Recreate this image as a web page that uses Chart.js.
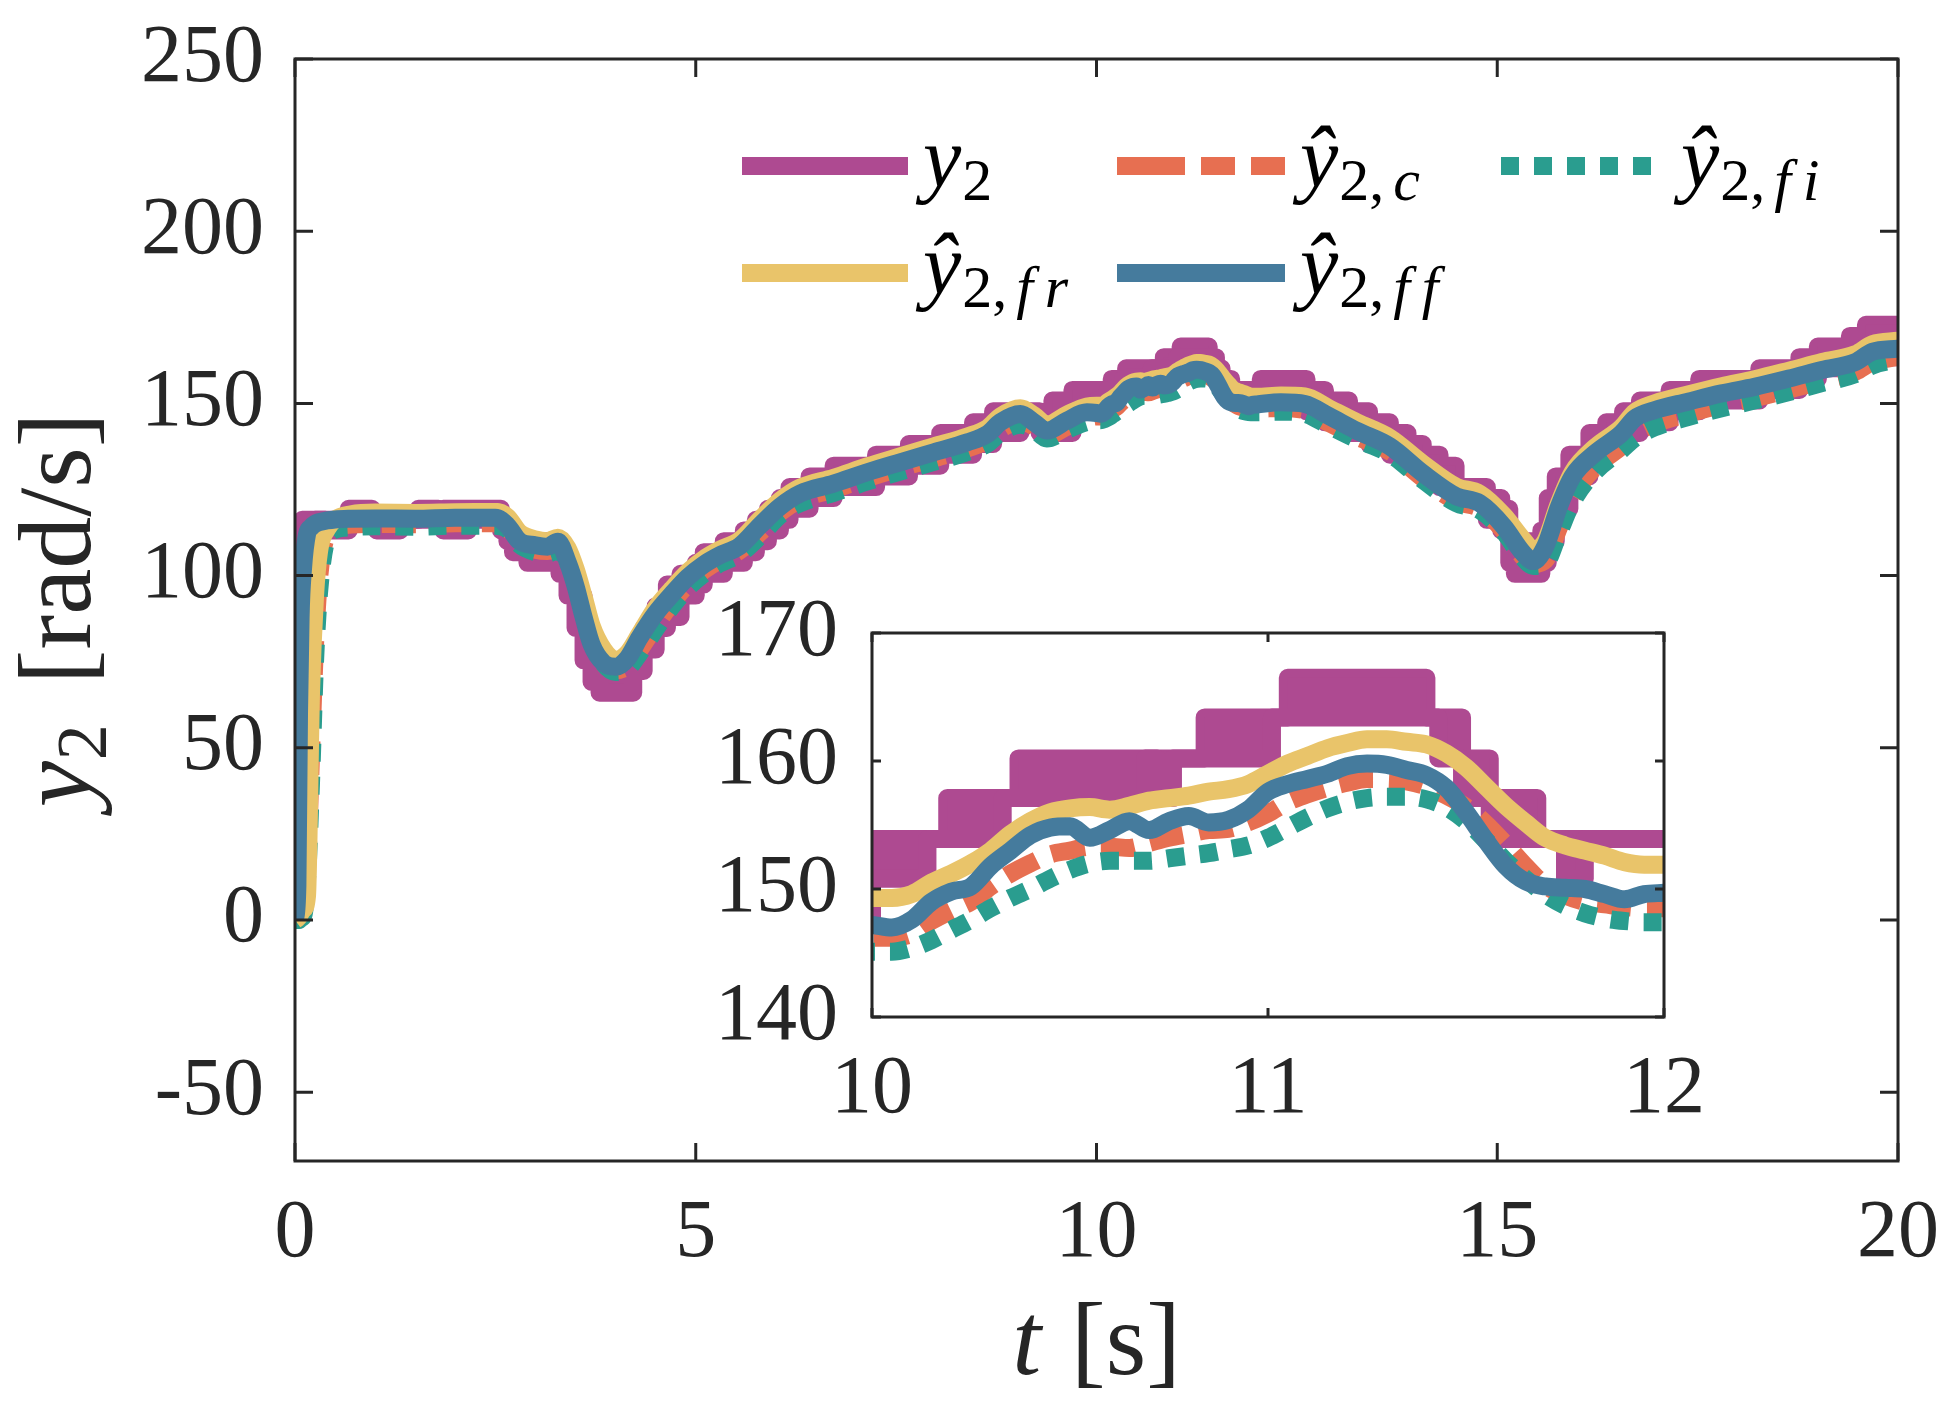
<!DOCTYPE html>
<html>
<head>
<meta charset="utf-8">
<script src="https://cdn.jsdelivr.net/npm/chart.js@4.4.1/dist/chart.umd.min.js"></script>
<style>
html,body{margin:0;padding:0;background:#ffffff;}
#wrap{position:relative;width:1956px;height:1422px;overflow:hidden;}
#wrap canvas{position:absolute;left:0;top:0;}
</style>
</head>
<body>
<div id="wrap">
<canvas id="mainChart" width="1956" height="1422"></canvas>
<canvas id="insetChart" width="1956" height="1422"></canvas>
</div>
<script>
// ---------------- data (time in s, values in rad/s) ----------------
const t = [
  0, 0.03, 0.05, 0.07, 0.1, 0.15, 0.2, 0.25, 0.3, 0.4,
  0.5, 0.7, 1.0, 1.5, 2.0, 2.5, 2.65, 2.8, 3.0, 3.15,
  3.28, 3.4, 3.5, 3.6, 3.7, 3.85, 4.0, 4.15, 4.3, 4.5,
  4.7, 4.9, 5.1, 5.3, 5.55, 5.8, 6.05, 6.3, 6.72, 7.14,
  7.55, 7.97, 8.39, 8.64, 8.8, 9.05, 9.22, 9.38, 9.63, 9.88,
  10.00, 10.05, 10.10, 10.15, 10.20, 10.25, 10.30, 10.35, 10.40, 10.45,
  10.50, 10.55, 10.60, 10.65, 10.70, 10.75, 10.80, 10.85, 10.90, 10.95,
  11.00, 11.05, 11.10, 11.15, 11.20, 11.25, 11.30, 11.35, 11.40, 11.45,
  11.50, 11.55, 11.60, 11.65, 11.70, 11.75, 11.80, 11.85, 11.90, 11.95,
  12.00,
  12.3, 12.6, 12.9, 13.25, 13.66, 14.07, 14.49, 14.78, 15.08, 15.32,
  15.45, 15.6, 15.77, 15.94, 16.22, 16.55, 16.72, 16.96, 17.38, 17.80,
  18.21, 18.64, 19.05, 19.47, 19.68, 20.0
];
// y2hat_ff (blue)
const yFF = [
  0, 10, 60, 88, 102, 112, 114, 115, 115.5, 116,
  116.3, 116.5, 116.6, 116.5, 116.8, 116.8, 114.5, 110, 108.8, 108.4,
  109.8, 104, 97, 88, 80, 74.6, 73.5, 76, 82, 89,
  94.5, 99.5, 103.2, 105.9, 108.6, 114.5, 120, 123.8, 126.7, 130,
  132.9, 135.8, 138.7, 141.1, 144.5, 146.9, 144.5, 142.1, 145, 147.4,
  147.2, 147.0, 147.6, 149.0, 149.8, 150.2, 151.8, 153.0, 154.2, 154.8,
  154.9, 154.0, 154.6, 155.3, 154.6, 155.3, 155.7, 155.2, 155.4, 156.2,
  157.6, 158.2, 158.6, 159.0, 159.6, 159.8, 159.7, 159.3, 158.9, 157.9,
  156.0, 153.8, 151.8, 150.6, 150.2, 150.1, 150.0, 149.6, 149.2, 149.6,
  149.7,
  150.3, 149.8, 146.3, 142, 137.5, 129.7, 123, 121, 114.3, 106.6,
  104.2, 108.5, 120, 128.8, 135.5, 141.3, 145.7, 148, 150.5, 152.9,
  154.8, 157.2, 159.7, 162, 165, 165.9
];
// y2hat_fr (yellow)
const yFR = [
  0, 0.5, 1, 2, 3, 7, 66, 94, 107, 113.5,
  116.3, 117.8, 118.3, 118.2, 118.4, 118.5, 117, 112.5, 110.5, 110,
  111, 108, 102, 94, 85.5, 78.5, 75.5, 77.5, 83, 90.5,
  96, 101, 104.8, 107.5, 110.3, 116.2, 121.7, 125.5, 128.4, 131.7,
  134.6, 137.5, 140.4, 142.8, 146.2, 148.6, 146.5, 143.8, 146.7, 149.1,
  149.3, 149.3, 149.6, 150.5, 151.2, 152.0, 153.0, 154.3, 155.3, 156.0,
  156.3, 156.4, 156.2, 156.5, 156.9, 157.1, 157.3, 157.6, 157.8, 158.2,
  159.0, 159.8, 160.4, 161.0, 161.4, 161.7, 161.7, 161.5, 161.3, 160.6,
  159.5, 158.0, 156.5, 155.2, 154.0, 153.4, 153.0, 152.6, 152.1, 151.9,
  151.9,
  152.3, 152.0, 148.6, 144.5, 140, 132.5, 125.8, 123.8, 117.5, 110.5,
  107.5, 110, 121, 130, 137.2, 143, 147.5, 150, 152.6, 155,
  157, 159.5, 162, 164.3, 167.2, 168.2
];
// y2hat_c (orange, dashed)
const yC = [
  0, 0, 0.5, 1, 2, 15, 48, 80, 99, 112,
  114, 114.8, 115, 114.9, 115.2, 115.2, 114, 109.5, 107.5, 107.1,
  108, 104.3, 97.8, 89.3, 81.3, 74.8, 72.5, 73.8, 78.5, 85.5,
  92, 97.5, 101.5, 104.5, 107.3, 112.5, 118.3, 122, 125, 128.3,
  131.2, 134, 136.9, 139.3, 142.5, 144.8, 143.3, 140.6, 143.2, 145.6,
  146.2, 146.2, 146.5, 147.5, 148.3, 149.0, 150.2, 151.2, 152.0, 152.7,
  153.0, 153.3, 153.3, 153.2, 153.6, 154.0, 154.3, 154.6, 154.7, 155.2,
  155.9, 156.8, 157.4, 157.9, 158.3, 158.6, 158.6, 158.4, 158.0, 157.3,
  156.4, 155.1, 153.5, 151.8, 150.3, 149.5, 149.0, 148.8, 148.6, 148.5,
  148.5,
  148.6, 148.0, 144.3, 140.3, 136, 128.3, 121.5, 119.5, 113, 105.5,
  103.3, 104.5, 114, 123, 131.5, 137.5, 141.2, 144, 147, 149.5,
  151.5, 154, 156.6, 159.2, 162, 163.5
];
// y2hat_fi (green, dotted)
const yFI = [
  0, 0, 0, 0.5, 1, 12, 40, 75, 95, 111,
  113.3, 114, 114.3, 114.2, 114.5, 114.5, 113.5, 109, 106.8, 106.4,
  107.3, 104, 97.5, 89, 81, 74.5, 72, 73, 77.5, 84.5,
  91, 96.5, 100.5, 103.5, 106.3, 111.5, 117.5, 121, 124, 127.3,
  130.2, 133, 135.9, 138.3, 141.5, 143.8, 142.5, 139.8, 142.3, 144.6,
  145.1, 145.1, 145.4, 146.0, 146.8, 147.6, 148.5, 149.3, 150.0, 150.8,
  151.5, 152.0, 152.2, 152.2, 152.2, 152.4, 152.6, 152.8, 153.1, 153.4,
  154.0, 154.8, 155.6, 156.3, 156.8, 157.1, 157.2, 157.2, 157.0, 156.4,
  155.3, 153.8, 152.2, 150.8, 149.6, 148.7, 148.1, 147.7, 147.5, 147.4,
  147.4,
  147.6, 147.0, 143.5, 139.5, 135.3, 127.8, 121, 119, 112.7, 105.2,
  102.8, 103.5, 112.5, 121.5, 130.2, 136.5, 140, 143, 146, 148.6,
  150.8, 153.3, 155.9, 158.5, 161, 162.8
];
// measured y2 (quantized): upper and lower envelope of the chattering signal,
// each value holds from its time until the next time
const tY2 = [
  0, 0.01, 0.02, 0.03, 0.04, 0.06, 0.09, 0.13, 0.25, 0.38,
  0.67, 0.96, 1.02, 1.31, 1.54, 1.79, 1.85, 2.16, 2.57, 2.65,
  2.72, 2.9, 3.2, 3.3, 3.4, 3.5, 3.6, 3.7, 3.8, 4.15,
  4.22, 4.35, 4.5, 4.64, 4.81, 5.0, 5.1, 5.35, 5.6, 5.75,
  5.9, 6.05, 6.17, 6.42, 6.72, 7.25, 7.66, 8.05, 8.46, 8.71,
  9.05, 9.29, 9.45, 9.7, 10.0, 10.14, 10.19, 10.33, 10.37, 10.69,
  10.72, 10.76, 10.84, 11.01, 11.05, 11.40, 11.43, 11.49, 11.56, 11.68,
  11.75, 11.80, 12.05, 12.62, 12.85, 13.15, 13.4, 13.66, 13.88, 14.07,
  14.28, 14.48, 14.87, 15.05, 15.15, 15.22, 15.55, 15.63, 15.73, 15.9,
  16.15, 16.36, 16.57, 16.78, 17.15, 17.52, 18.27, 18.77, 19.0, 19.4,
  19.6, 20.0
];
const y2Hi = [
  0, 31.4, 69.1, 94.2, 106.8, 113.1, 116.2, 116.2, 116.2, 116.2,
  119.4, 116.2, 116.2, 116.2, 119.4, 116.2, 119.4, 119.4, 116.2, 113.1,
  110.0, 110.0, 110.0, 106.8, 100.5, 94.2, 84.8, 78.5, 72.3, 75.4,
  78.5, 84.8, 91.1, 97.4, 100.5, 103.7, 106.8, 110.0, 113.1, 116.2,
  119.4, 122.5, 125.7, 128.8, 131.9, 135.1, 138.2, 141.4, 144.5, 147.7,
  147.7, 144.5, 150.8, 153.9, 153.9, 153.9, 157.1, 157.1, 160.2, 160.2,
  160.2, 160.2, 163.4, 163.4, 166.5, 163.4, 163.4, 160.2, 157.1, 153.9,
  153.9, 153.9, 157.1, 153.9, 150.8, 147.7, 144.5, 141.4, 138.2, 135.1,
  131.9, 125.7, 122.5, 119.4, 113.1, 110.0, 113.1, 122.5, 128.8, 135.1,
  141.4, 144.5, 147.7, 150.8, 153.9, 157.1, 160.2, 163.4, 166.5, 169.6,
  172.8, 172.8
];
const y2Lo = [
  0, 0, 31.4, 62.8, 88.0, 103.7, 110.0, 113.1, 116.2, 113.1,
  116.2, 116.2, 113.1, 116.2, 116.2, 116.2, 113.1, 116.2, 113.1, 110.0,
  106.8, 103.7, 106.8, 100.5, 94.2, 84.8, 75.4, 69.1, 66.0, 66.0,
  72.3, 78.5, 84.8, 88.0, 94.2, 97.4, 100.5, 103.7, 106.8, 110.0,
  113.1, 116.2, 119.4, 122.5, 125.7, 128.8, 131.9, 135.1, 138.2, 141.4,
  144.5, 141.4, 141.4, 147.7, 150.8, 153.9, 153.9, 157.1, 157.1, 160.2,
  157.1, 160.2, 160.2, 163.4, 163.4, 163.4, 160.2, 157.1, 153.9, 153.9,
  150.8, 153.9, 150.8, 147.7, 144.5, 141.4, 138.2, 135.1, 131.9, 128.8,
  125.7, 122.5, 116.2, 113.1, 103.7, 100.5, 103.7, 110.0, 119.4, 128.8,
  135.1, 138.2, 141.4, 144.5, 147.7, 150.8, 153.9, 157.1, 160.2, 163.4,
  163.4, 166.5
];
const mainXTicks = [0, 5, 10, 15, 20];
const mainYTicks = [-50, 0, 50, 100, 150, 200, 250];
const insetXTicks = [10, 11, 12];
const insetYTicks = [140, 150, 160, 170];

// ---------------- styling ----------------
const PURPLE = '#AE4A91', ORANGE = '#E76F51', GREEN = '#2A9D8F', YELLOW = '#E9C46A', BLUE = '#457B9D';
const AX = '#262626';
const SERIF = "'Liberation Serif', 'DejaVu Serif', serif";
const LW = 18;

function lineDs(label, xs, ys, color, dash, order) {
  return {
    label, data: xs.map((x, i) => ({x, y: ys[i]})),
    borderColor: color, backgroundColor: color, borderWidth: LW, borderDash: dash,
    borderCapStyle: 'butt', borderJoinStyle: 'round', pointRadius: 0, fill: false,
    cubicInterpolationMode: 'monotone', order
  };
}
function makeDatasets() {
  return [
    {label: 'y2 upper', data: tY2.map((x, i) => ({x, y: y2Hi[i]})), borderColor: PURPLE, backgroundColor: PURPLE,
     borderWidth: LW, stepped: 'before', pointRadius: 0, fill: false, order: 5, borderJoinStyle: 'round'},
    {label: 'y2 lower', data: tY2.map((x, i) => ({x, y: y2Lo[i]})), borderColor: PURPLE, backgroundColor: PURPLE,
     borderWidth: LW, stepped: 'before', pointRadius: 0, fill: '-1', order: 4, borderJoinStyle: 'round'},
    lineDs('y2hat_c', t, yC, ORANGE, [34, 16], 3),
    lineDs('y2hat_fi', t, yFI, GREEN, [18, 15], 2),
    lineDs('y2hat_fr', t, yFR, YELLOW, [], 1),
    lineDs('y2hat_ff', t, yFF, BLUE, [], 0)
  ];
}
function setTicks(arr) { return s => { s.ticks = arr.map(v => ({value: v})); }; }

function scaleCfg(min, max, ticks, pad, isX) {
  return {
    type: 'linear', min, max,
    grid: {display: false, drawTicks: false}, border: {display: false},
    ticks: {font: {family: SERIF, size: 82, lineHeight: 1}, color: AX, padding: pad,
            maxRotation: 0, minRotation: 0, autoSkip: false, callback: v => String(v)},
    afterBuildTicks: setTicks(ticks),
    afterFit: s => {
      if (isX) s.height = 150; else s.width = 200;
      s.paddingLeft = 0; s.paddingRight = 0; s.paddingTop = 0; s.paddingBottom = 0;
    }
  };
}

function boxPlugin(len, whiteBg) {
  return {
    id: 'boxTicks' + len,
    beforeDatasetsDraw(chart) {
      if (!whiteBg) return;
      const {ctx, chartArea: a} = chart;
      ctx.save(); ctx.fillStyle = '#ffffff';
      ctx.fillRect(a.left, a.top, a.right - a.left, a.bottom - a.top); ctx.restore();
    },
    afterDatasetsDraw(chart) {
      const {ctx, chartArea: a, scales} = chart;
      ctx.save();
      ctx.strokeStyle = AX; ctx.lineWidth = 3; ctx.setLineDash([]);
      ctx.beginPath();
      scales.x.ticks.forEach(tk => {
        const p = scales.x.getPixelForValue(tk.value);
        ctx.moveTo(p, a.bottom); ctx.lineTo(p, a.bottom - len);
        ctx.moveTo(p, a.top); ctx.lineTo(p, a.top + len);
      });
      scales.y.ticks.forEach(tk => {
        const p = scales.y.getPixelForValue(tk.value);
        ctx.moveTo(a.left, p); ctx.lineTo(a.left + len, p);
        ctx.moveTo(a.right, p); ctx.lineTo(a.right - len, p);
      });
      ctx.stroke();
      ctx.strokeRect(a.left, a.top, a.right - a.left, a.bottom - a.top);
      ctx.restore();
    }
  };
}

function runsWidth(ctx, runs) {
  let w = 0;
  runs.forEach(r => { ctx.font = r.f; w += ctx.measureText(r.t).width + (r.dx || 0); });
  return w;
}
function drawRuns(ctx, runs, x, y, color) {
  ctx.fillStyle = color; ctx.textBaseline = 'alphabetic'; ctx.textAlign = 'left';
  let cx = x;
  runs.forEach(r => {
    ctx.font = r.f;
    ctx.fillText(r.t, cx, y + (r.dy || 0));
    cx += ctx.measureText(r.t).width + (r.dx || 0);
  });
}
const MI = 'italic 86px ' + SERIF, SR = '60px ' + SERIF, SI = 'italic 60px ' + SERIF;
const SUB = 14;
function legendLabel(hat, sub) {
  const runs = [{t: hat ? '\u0177' : 'y', f: MI, dx: 1}, {t: '2', f: SR, dy: SUB}];
  if (sub) {
    runs.push({t: ',', f: SR, dy: SUB, dx: 9});
    sub.split('').forEach(ch => runs.push({t: ch, f: SI, dy: SUB, dx: ch === 'f' ? 12 : 2}));
  }
  return runs;
}
const legendItems = [
  {color: PURPLE, dash: [], x0: 742, x1: 908, tx: 923, row: 0, runs: legendLabel(false, '')},
  {color: ORANGE, dash: [68, 16, 34, 16, 34], x0: 1117, x1: 1285, tx: 1300, row: 0, runs: legendLabel(true, 'c')},
  {color: GREEN, dash: [18, 15], x0: 1501, x1: 1651, tx: 1681, row: 0, runs: legendLabel(true, 'fi')},
  {color: YELLOW, dash: [], x0: 742, x1: 908, tx: 923, row: 1, runs: legendLabel(true, 'fr')},
  {color: BLUE, dash: [], x0: 1117, x1: 1285, tx: 1300, row: 1, runs: legendLabel(true, 'ff')}
];
const rowLineY = [166, 273], rowBase = [186, 293];

const decorPlugin = {
  id: 'decor',
  beforeDraw(chart) {
    const ctx = chart.ctx; ctx.save(); ctx.fillStyle = '#ffffff';
    ctx.fillRect(0, 0, chart.width, chart.height); ctx.restore();
  },
  afterDraw(chart) {
    const ctx = chart.ctx, a = chart.chartArea;
    ctx.save();
    legendItems.forEach(it => {
      const y = rowLineY[it.row];
      ctx.save();
      ctx.strokeStyle = it.color; ctx.lineWidth = LW; ctx.lineCap = 'butt';
      ctx.setLineDash(it.dash);
      ctx.beginPath(); ctx.moveTo(it.x0, y); ctx.lineTo(it.x1, y); ctx.stroke();
      ctx.restore();
      drawRuns(ctx, it.runs, it.tx, rowBase[it.row], '#000000');
    });
    // x-axis title
    const xr = [{t: 't', f: 'italic 104px ' + SERIF, dx: 4}, {t: ' [s]', f: '104px ' + SERIF}];
    const xw = runsWidth(ctx, xr);
    drawRuns(ctx, xr, (a.left + a.right) / 2 - xw / 2, 1374, AX);
    // y-axis title (rotated)
    const yr = [{t: 'y', f: 'italic 104px ' + SERIF, dx: 1}, {t: '2', f: '72px ' + SERIF, dy: 16, dx: 14},
                {t: ' [rad/s]', f: '104px ' + SERIF}];
    const yw = runsWidth(ctx, yr);
    ctx.translate(90, (a.top + a.bottom) / 2);
    ctx.rotate(-Math.PI / 2);
    drawRuns(ctx, yr, -yw / 2, 0, AX);
    ctx.restore();
  }
};

const common = {
  responsive: false, animation: false, devicePixelRatio: 1, events: [],
  plugins: {legend: {display: false}, tooltip: {enabled: false}}
};

new Chart(document.getElementById('mainChart'), {
  type: 'line',
  data: {datasets: makeDatasets()},
  options: Object.assign({}, common, {
    layout: {padding: {left: 95, right: 58, top: 59, bottom: 111}},
    scales: {
      x: scaleCfg(0, 20, mainXTicks, 32, true),
      y: scaleCfg(-70, 250, mainYTicks, 31, false)
    }
  }),
  plugins: [decorPlugin, boxPlugin(18, false)]
});

new Chart(document.getElementById('insetChart'), {
  type: 'line',
  data: {datasets: makeDatasets()},
  options: Object.assign({}, common, {
    layout: {padding: {left: 672, right: 292, top: 633, bottom: 255}},
    scales: {
      x: scaleCfg(10, 12, insetXTicks, 32, true),
      y: scaleCfg(140, 170, insetYTicks, 34, false)
    }
  }),
  plugins: [boxPlugin(9, true)]
});
</script>
</body>
</html>
